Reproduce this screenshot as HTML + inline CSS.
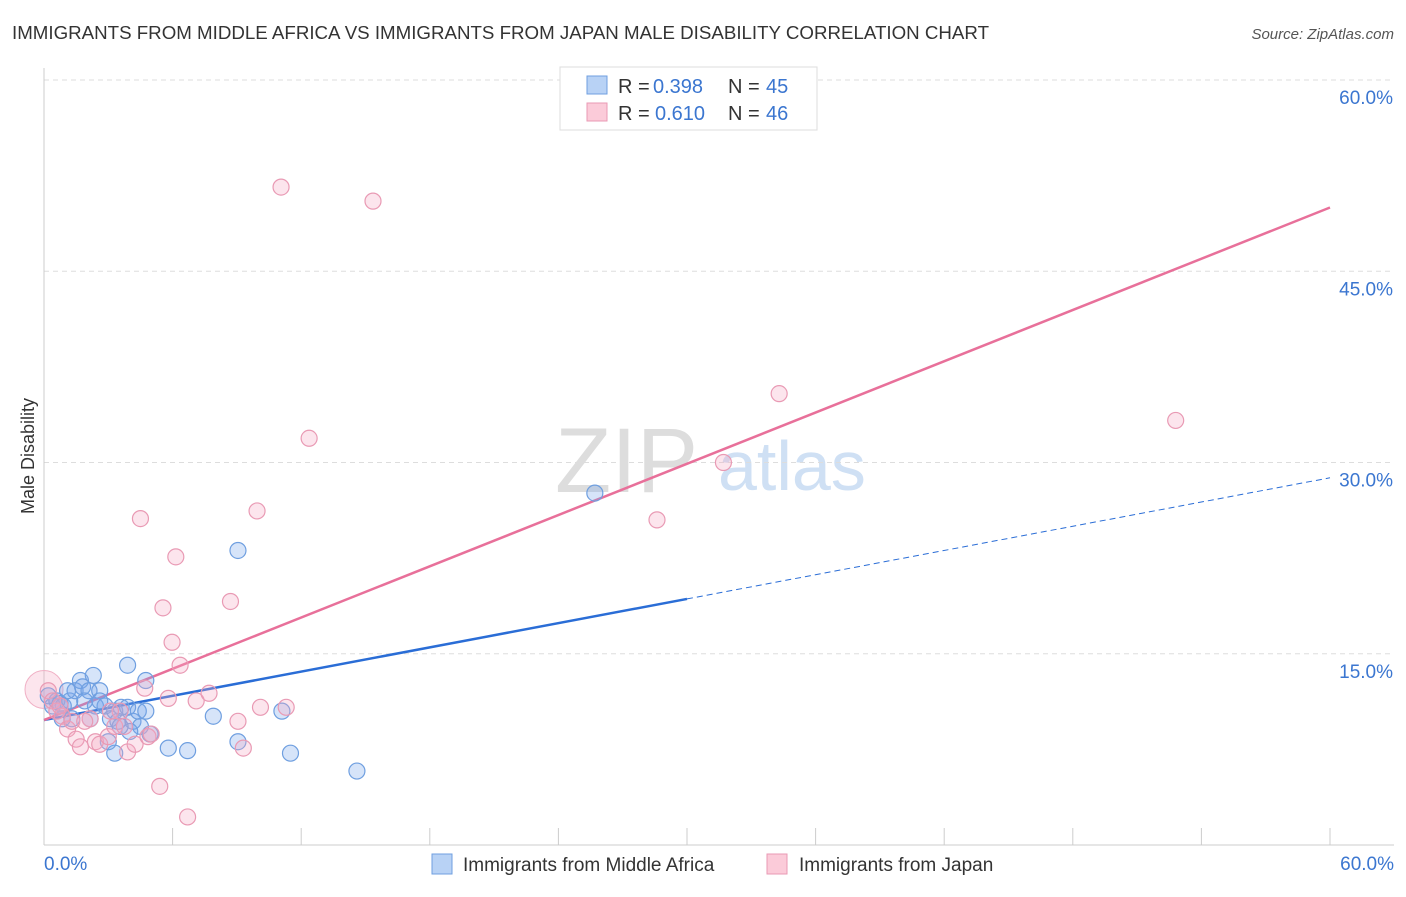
<!DOCTYPE html>
<html><head><meta charset="utf-8"><style>
body{margin:0;background:#fff;font-family:"Liberation Sans",sans-serif;}
svg text{font-family:"Liberation Sans",sans-serif;}
</style></head><body>
<svg id="chart" width="1406" height="892">
<text x="12" y="39" font-size="18.5" fill="#333" textLength="977" lengthAdjust="spacingAndGlyphs">IMMIGRANTS FROM MIDDLE AFRICA VS IMMIGRANTS FROM JAPAN MALE DISABILITY CORRELATION CHART</text>
<text x="1394" y="39" font-size="15" fill="#555" font-style="italic" text-anchor="end">Source: ZipAtlas.com</text>
<g><text x="555" y="492" font-size="92" fill="#ddd" font-family="Liberation Serif">ZIP</text><text x="718" y="490" font-size="70" fill="#cfe0f4">atlas</text></g>
<g id="grid"></g><g id="axes"></g><g id="trends"></g><g id="points"></g>
<text transform="translate(34,456) rotate(-90)" font-size="18" fill="#333" text-anchor="middle">Male Disability</text>
<g>
<rect x="560" y="67" width="257" height="63" fill="#fff" stroke="#ddd"/>
<rect x="587" y="76" width="20" height="18" fill="#b8d2f5" stroke="#6f9fe0"/>
<text x="618" y="93" font-size="20" fill="#333">R =</text><text x="653" y="93" font-size="20" fill="#3b76d0">0.398</text>
<text x="728" y="93" font-size="20" fill="#333">N =</text><text x="766" y="93" font-size="20" fill="#3b76d0">45</text>
<rect x="587" y="103" width="20" height="18" fill="#fbcbd9" stroke="#e99ab4"/>
<text x="618" y="120" font-size="20" fill="#333">R =</text><text x="655" y="120" font-size="20" fill="#3b76d0">0.610</text>
<text x="728" y="120" font-size="20" fill="#333">N =</text><text x="766" y="120" font-size="20" fill="#3b76d0">46</text>
</g>
<g>
<rect x="432" y="854" width="20" height="20" fill="#b8d2f5" stroke="#6f9fe0"/>
<text x="463" y="871" font-size="19" fill="#333">Immigrants from Middle Africa</text>
<rect x="767" y="854" width="20" height="20" fill="#fbcbd9" stroke="#e99ab4"/>
<text x="799" y="871" font-size="19" fill="#333">Immigrants from Japan</text>
</g>
</svg>
<script>
const yTicks=[15,30,45,60];
const xTickLabels=["0.0%","60.0%"];
const blueX=[0.2,0.4,0.6,0.75,0.9,1.2,1.45,1.7,1.8,2.1,2.3,2.6,2.4,2.85,3.1,3.3,3.45,3.6,3.9,3.9,4.15,4.4,4.5,4.75,4.75,4.95,5.8,6.7,7.9,9.05,9.05,11.1,11.5,14.6,25.7,3.3,3.0,1.3,2.15,0.85,1.9,4.0,2.6,1.1,3.55];
const blueY=[11.7,10.9,11.3,11.1,10.9,11.3,12.1,12.9,12.4,12.1,13.3,12.1,10.9,10.9,9.9,10.5,9.7,10.8,14.1,10.8,9.7,10.5,9.3,12.9,10.5,8.7,7.6,7.4,10.1,23.1,8.1,10.5,7.2,5.8,27.6,7.2,8.1,9.9,9.9,9.9,11.3,8.9,11.3,12.1,9.3];
const pinkX=[0.2,0.4,0.6,0.85,1.1,1.3,1.5,1.7,2.15,2.4,2.6,3.0,3.3,3.55,3.75,3.9,4.25,4.5,4.7,4.85,5.0,5.4,5.55,5.8,5.975,6.15,6.35,6.7,7.1,7.7,8.7,9.05,9.3,9.94,10.1,11.06,11.3,12.37,15.35,28.6,31.7,34.3,52.8,0.75,3.1,1.9];
const pinkY=[12.1,11.3,10.5,10.1,9.1,9.7,8.3,7.7,9.9,8.1,7.9,8.5,9.3,10.5,9.3,7.3,7.9,25.6,12.3,8.5,8.7,4.6,18.6,11.5,15.9,22.6,14.1,2.2,11.3,11.9,19.1,9.7,7.6,26.2,10.8,51.6,10.8,31.9,50.5,25.5,30.0,35.4,33.3,10.9,10.5,9.7];
const blueTrend=[9.8,28.8], pinkTrend=[9.8,50.0];
const NS="http://www.w3.org/2000/svg";
const X=v=>44+v*(1330-44)/60, Y=v=>845-v*(845-80)/60;
function mk(t,a,p){const e=document.createElementNS(NS,t);for(const k in a)e.setAttribute(k,a[k]);document.getElementById(p).appendChild(e);return e;}
yTicks.forEach(t=>{
 const l=mk('line',{x1:44,x2:1394,y1:Y(t),y2:Y(t),stroke:'#ddd','stroke-dasharray':'5,4'},'grid');
 
 
 const tx=mk('text',{x:1393,y:Y(t)+24,'font-size':19,fill:'#3b76d0','text-anchor':'end'},'grid');
 tx.textContent=t.toFixed(1)+'%';
 
 
});
mk('line',{x1:44,x2:44,y1:68,y2:845,stroke:'#ccc'},'axes');
mk('line',{x1:44,x2:1394,y1:845,y2:845,stroke:'#ccc'},'axes');
for(let i=0;i<=10;i++){mk('line',{x1:X(i*6),x2:X(i*6),y1:828,y2:845,stroke:'#ccc'},'axes');}
const xl0=mk('text',{x:44,y:870,'font-size':19,fill:'#3b76d0'},'axes');xl0.textContent=xTickLabels[0];


const xl1=mk('text',{x:1394,y:870,'font-size':19,fill:'#3b76d0','text-anchor':'end'},'axes');xl1.textContent=xTickLabels[1];


const bx=30;
const by=blueTrend[0]+(blueTrend[1]-blueTrend[0])*bx/60;
let t1=mk('line',{x1:X(0),y1:Y(blueTrend[0]),x2:X(bx),y2:Y(by),stroke:'#2a6dd6','stroke-width':2.5},'trends');


let t2=mk('line',{x1:X(bx),y1:Y(by),x2:X(60),y2:Y(blueTrend[1]),stroke:'#2a6dd6','stroke-width':1,'stroke-dasharray':'6,4'},'trends');


let t3=mk('line',{x1:X(0),y1:Y(pinkTrend[0]),x2:X(60),y2:Y(pinkTrend[1]),stroke:'#e8709a','stroke-width':2.5},'trends');


const big=mk('circle',{cx:X(0),cy:Y(12.2),r:19,fill:'rgba(246,170,195,0.3)',stroke:'#f0b0c5'},'points');


blueX.forEach((v,i)=>{const c=mk('circle',{cx:X(v),cy:Y(blueY[i]),r:8,fill:'rgba(120,165,235,0.3)',stroke:'#6f9fe0','stroke-width':1.2},'points');
 
 });
pinkX.forEach((v,i)=>{const c=mk('circle',{cx:X(v),cy:Y(pinkY[i]),r:8,fill:'rgba(246,170,195,0.3)',stroke:'#e99ab4','stroke-width':1.2},'points');
 
 });
</script>
</body></html>
